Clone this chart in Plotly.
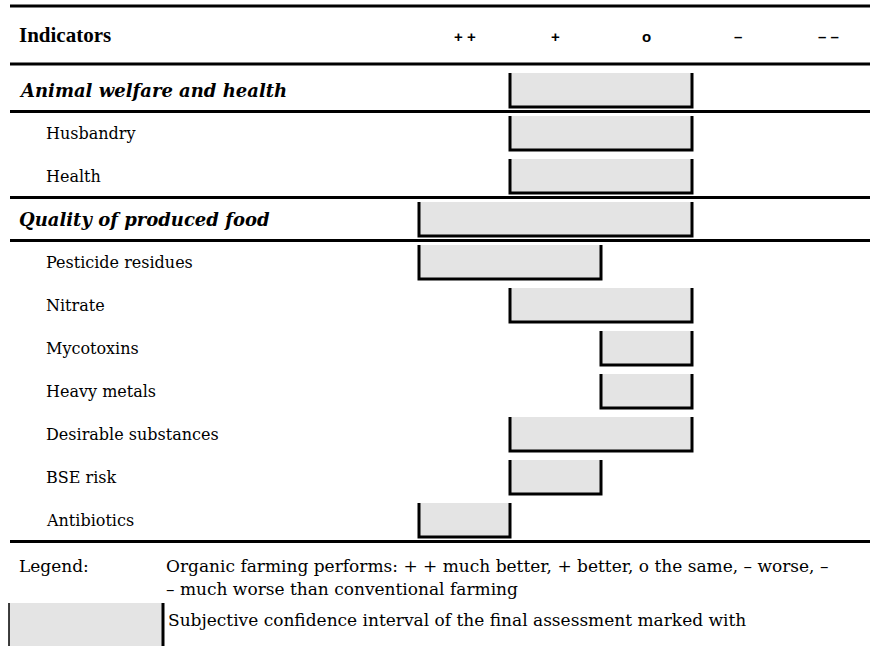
import plotly.graph_objects as go

# ---- data ----
indicators = ["Animal welfare and health", "Husbandry", "Health",
              "Quality of produced food", "Pesticide residues", "Nitrate",
              "Mycotoxins", "Heavy metals", "Desirable substances",
              "BSE risk", "Antibiotics"]
is_group = [True, False, False, True, False, False, False, False, False, False, False]
# assessment interval in column units (0 = left edge of "++", 5 = right edge of "– –")
interval_start = [1, 1, 1, 0, 0, 1, 2, 2, 1, 1, 0]
interval_end = [3, 3, 3, 3, 2, 3, 3, 3, 3, 2, 1]
column_labels = ["+ +", "+", "o", "–", "– –"]
separators_after = [0, 2, 3, 10]

W, H = 870, 646
PX_PER_COL = 91.0
X0_PX = 419.0          # pixel of column boundary 0
ROW_PX = 43.0
Y0_PX = 90.0           # pixel of row 0 centre

def ypx(p):
    """pixel -> y data value"""
    return (p - Y0_PX) / ROW_PX

def xp(p):
    """pixel -> paper x"""
    return p / W

FILL = "#e4e4e4"
HALF = 0.395
serif = "DejaVu Serif"

fig = go.Figure()

rows = list(range(len(indicators)))
fig.add_trace(go.Bar(
    y=rows, x=[e - s for s, e in zip(interval_start, interval_end)], base=interval_start,
    orientation="h", width=2 * HALF, marker=dict(color=FILL, line=dict(width=0)),
    hoverinfo="skip", showlegend=False))

# bar edges (left, bottom, right)
ex, ey = [], []
for i, (s, e) in enumerate(zip(interval_start, interval_end)):
    ex += [s, s, e, e, None]
    ey += [i - HALF, i + HALF, i + HALF, i - HALF, None]
fig.add_trace(go.Scatter(x=ex, y=ey, mode="lines", line=dict(color="black", width=3),
                         hoverinfo="skip", showlegend=False))

ann = []
shapes = []
# header
ann.append(dict(text="<b>Indicators</b>", x=xp(17), y=ypx(35), xref="paper", yref="y",
                xanchor="left", yanchor="middle", showarrow=False,
                font=dict(family="Liberation Sans Narrow", size=21, color="black")))
for k, lab in enumerate(column_labels):
    ann.append(dict(text="<b>" + lab + "</b>", x=k + 0.5, y=ypx(36), xref="x", yref="y",
                    xanchor="center", yanchor="middle", showarrow=False,
                    font=dict(family="Liberation Sans", size=15, color="black")))
# row labels
for i, (lab, g) in enumerate(zip(indicators, is_group)):
    if g:
        ann.append(dict(text="<b><i>" + lab + "</i></b>", x=xp(17), y=i, xref="paper", yref="y",
                        xanchor="left", yanchor="middle", showarrow=False,
                        font=dict(family=serif, size=18, color="black")))
    else:
        ann.append(dict(text=lab, x=xp(44), y=i, xref="paper", yref="y",
                        xanchor="left", yanchor="middle", showarrow=False,
                        font=dict(family=serif, size=16, color="black")))

# horizontal rules
def hline(y, w):
    shapes.append(dict(type="line", xref="paper", yref="y", x0=xp(10), x1=1, y0=y, y1=y,
                       line=dict(color="black", width=w)))
hline(ypx(6), 3)
hline(ypx(64), 3)
for r in separators_after:
    hline(r + 0.5, 3)

# legend
leg_font = dict(family=serif, size=17, color="black")
ann.append(dict(text="Legend:", x=xp(17), y=ypx(566), xref="paper", yref="y",
                xanchor="left", yanchor="middle", showarrow=False, font=leg_font))
ann.append(dict(text="Organic farming performs: + + much better, + better, o the same, – worse, –",
                x=xp(164), y=ypx(566), xref="paper", yref="y",
                xanchor="left", yanchor="middle", showarrow=False, font=leg_font))
ann.append(dict(text="– much worse than conventional farming",
                x=xp(164), y=ypx(589), xref="paper", yref="y",
                xanchor="left", yanchor="middle", showarrow=False, font=leg_font))
ann.append(dict(text="Subjective confidence interval of the final assessment marked with",
                x=xp(166), y=ypx(620), xref="paper", yref="y",
                xanchor="left", yanchor="middle", showarrow=False, font=leg_font))
shapes.append(dict(type="rect", xref="paper", yref="y", x0=xp(9), x1=xp(163),
                   y0=ypx(603), y1=ypx(660), fillcolor=FILL, line=dict(width=0), layer="below"))
shapes.append(dict(type="line", xref="paper", yref="y", x0=xp(9), x1=xp(9),
                   y0=ypx(603), y1=ypx(660), line=dict(color="black", width=1.5)))
shapes.append(dict(type="line", xref="paper", yref="y", x0=xp(163), x1=xp(163),
                   y0=ypx(603), y1=ypx(660), line=dict(color="black", width=3)))

fig.update_layout(
    width=W, height=H, margin=dict(l=0, r=0, t=0, b=0),
    paper_bgcolor="white", plot_bgcolor="white",
    xaxis=dict(range=[-X0_PX / PX_PER_COL, (W - X0_PX) / PX_PER_COL], visible=False, fixedrange=True),
    yaxis=dict(range=[(H - Y0_PX) / ROW_PX, -Y0_PX / ROW_PX], visible=False, fixedrange=True),
    annotations=ann, shapes=shapes, bargap=0,
)
fig.write_html(
    "out.html",
    config={"displayModeBar": False},
    post_script="document.body.style.margin='0';document.body.style.overflow='hidden';",
)
